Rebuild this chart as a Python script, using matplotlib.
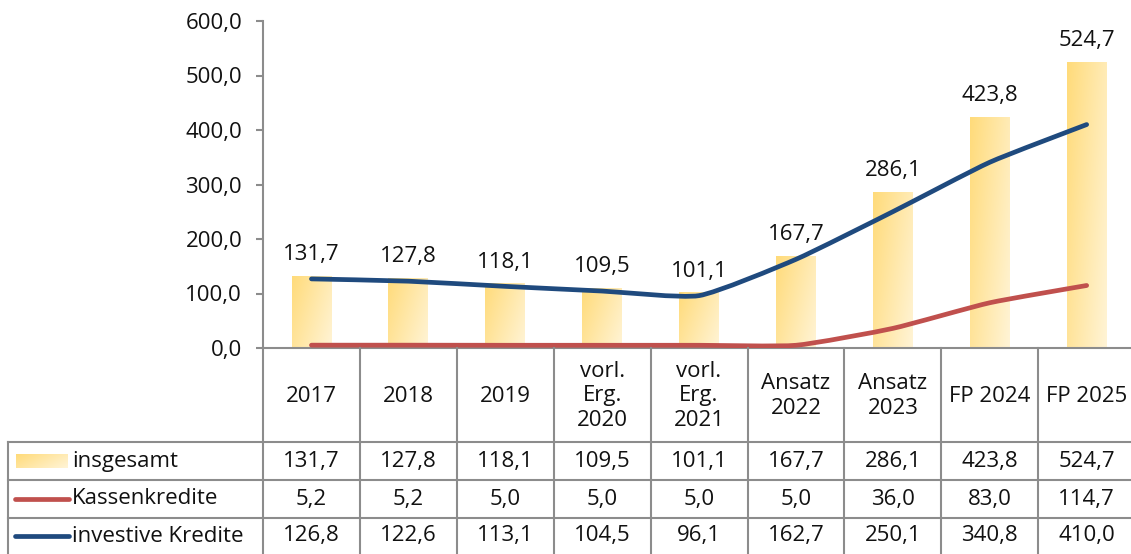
import matplotlib.pyplot as plt
import numpy as np
from matplotlib.path import Path
from matplotlib.patches import PathPatch
from matplotlib.lines import Line2D
from matplotlib.ticker import FuncFormatter

plt.rcParams['font.family'] = ['Open Sans', 'DejaVu Sans']

# Werte in Mio. EUR
kategorien = ['2017', '2018', '2019', 'vorl.\nErg.\n2020', 'vorl.\nErg.\n2021',
              'Ansatz\n2022', 'Ansatz\n2023', 'FP 2024', 'FP 2025']
insgesamt = [131.7, 127.8, 118.1, 109.5, 101.1, 167.7, 286.1, 423.8, 524.7]
kassenkredite = [5.2, 5.2, 5.0, 5.0, 5.0, 5.0, 36.0, 83.0, 114.7]
investive_kredite = [126.8, 122.6, 113.1, 104.5, 96.1, 162.7, 250.1, 340.8, 410.0]

FARBE_KASSE = '#C0504D'
FARBE_INVEST = '#1F4A7E'
FARBE_GITTER = '#8C8C8C'
TEXT = '#111111'
GELB_DUNKEL = np.array([255, 219, 122]) / 255
GELB_HELL = np.array([255, 244, 214]) / 255

W, H = 1131, 554
FS = 16


def fmt(v):
    return f'{v:.1f}'.replace('.', ',')


def gradient(n=60, m=200):
    # diagonaler Verlauf: oben links kräftig, unten rechts hell
    u = np.linspace(0, 1, n)[None, :]
    v = np.linspace(0, 1, m)[:, None]
    t = np.clip(0.65 * u + 0.35 * v, 0, 1)
    img = GELB_DUNKEL[None, None, :] * (1 - t[..., None]) + GELB_HELL[None, None, :] * t[..., None]
    return img


def smooth_path(x, y, k=0.09):
    # leicht geglättete Linie aus kubischen Bezier-Segmenten
    pts = np.column_stack([x, y]).astype(float)
    verts = [pts[0]]
    codes = [Path.MOVETO]
    n = len(pts)
    for i in range(n - 1):
        p0 = pts[i - 1] if i > 0 else pts[i]
        p1 = pts[i]
        p2 = pts[i + 1]
        p3 = pts[i + 2] if i + 2 < n else pts[i + 1]
        c1 = p1 + (p2 - p0) * k
        c2 = p2 - (p3 - p1) * k
        verts += [c1, c2, p2]
        codes += [Path.CURVE4] * 3
    return Path(verts, codes)


fig = plt.figure(figsize=(W / 100, H / 100), dpi=100)

# Diagrammbereich (Pixelkoordinaten)
x0, y_top, y_null = 263, 21, 348
col_w = 96.9
ax = fig.add_axes([x0 / W, (H - y_null) / H, 9 * col_w / W, (y_null - y_top) / H])

x = np.arange(len(kategorien))
bar_w = 0.41
grad = gradient()
for xi, v in zip(x, insgesamt):
    ax.imshow(grad, extent=[xi - bar_w / 2, xi + bar_w / 2, 0, v], origin='upper',
              aspect='auto', zorder=1, interpolation='bilinear')
    ax.annotate(fmt(v), (xi, v), textcoords='offset points', xytext=(0, 8),
                ha='center', va='bottom', fontsize=FS, color=TEXT)
ax.set_xlim(-0.5, 8.5)
ax.set_ylim(0, 600)

for werte, farbe in [(kassenkredite, FARBE_KASSE), (investive_kredite, FARBE_INVEST)]:
    patch = PathPatch(smooth_path(x, werte), fill=False, edgecolor=farbe, lw=3.4,
                      capstyle='round', joinstyle='round', zorder=3)
    ax.add_patch(patch)

for s in ['top', 'right']:
    ax.spines[s].set_visible(False)
for s in ['left', 'bottom']:
    ax.spines[s].set_color(FARBE_GITTER)
    ax.spines[s].set_linewidth(1.5)
ax.set_xticks([])
ax.set_yticks(range(0, 601, 100))
ax.yaxis.set_major_formatter(FuncFormatter(lambda v, p: fmt(v)))
ax.tick_params(axis='y', length=5, width=1.5, color=FARBE_GITTER, pad=10,
               labelsize=FS, labelcolor=TEXT)

# Datentabelle unter dem Diagramm
tab = fig.add_axes([0, 0, 1, 1])
tab.axis('off')

x_links = 8
zeilen_y = [y_null, 442, 480, 518, H]
grenzen = [x0 + i * col_w for i in range(10)]

lw_g = 1.5
# horizontale Linien
for yy in zeilen_y[1:4]:
    tab.add_line(Line2D([x_links, W], [yy, yy], color=FARBE_GITTER, lw=lw_g))
# vertikale Linien
for gx in grenzen:
    tab.add_line(Line2D([gx, gx], [y_null, H], color=FARBE_GITTER, lw=lw_g))
tab.add_line(Line2D([x_links, x_links], [442, H], color=FARBE_GITTER, lw=lw_g))

mitten = [x0 + (i + 0.5) * col_w for i in range(9)]
for mx, k in zip(mitten, kategorien):
    tab.text(mx, (y_null + 442) / 2 + 1, k, ha='center', va='center', fontsize=FS,
             linespacing=1.2, color=TEXT)

reihen = [('insgesamt', insgesamt), ('Kassenkredite', kassenkredite),
          ('investive Kredite', investive_kredite)]
for r, (name, werte) in enumerate(reihen):
    yc = (zeilen_y[r + 1] + zeilen_y[r + 2]) / 2
    for mx, v in zip(mitten, werte):
        tab.text(mx, yc, fmt(v), ha='center', va='center', fontsize=FS, color=TEXT)
    tab.text(72, yc, name, ha='left', va='center', fontsize=FS, color=TEXT)
    if r == 0:
        tab.imshow(gradient(60, 20), extent=[16, 68, yc + 7, yc - 7], origin='upper',
                   aspect='auto', interpolation='bilinear')
    else:
        farbe = FARBE_KASSE if r == 1 else FARBE_INVEST
        tab.add_line(Line2D([15, 69], [yc, yc], color=farbe, lw=3.4,
                            solid_capstyle='round'))
tab.set_xlim(0, W)
tab.set_ylim(H, 0)

fig.savefig('out.png', dpi=100)
